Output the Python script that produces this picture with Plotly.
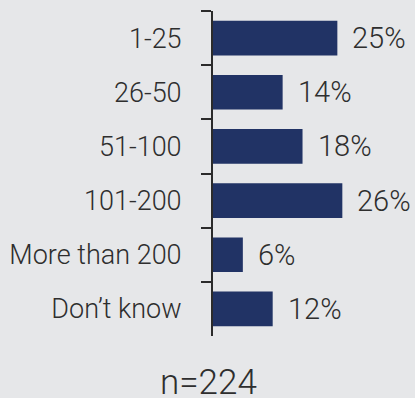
import plotly.graph_objects as go

categories = ["1-25", "26-50", "51-100", "101-200", "More than 200", "Don\u2019t know"]
values = [25, 14, 18, 26, 6, 12]
sample_note = "n=224"

bg = "#e6e7e9"
bar_color = "#213365"
text_color = "#2e2e2e"
font_family = "Roboto, Liberation Sans, sans-serif"

fig = go.Figure(
    go.Bar(
        x=values,
        y=categories,
        orientation="h",
        marker=dict(color=bar_color, line=dict(width=0)),
        width=0.64,
        hoverinfo="skip",
    )
)

# value labels placed just past the end of each bar
for cat, val in zip(categories, values):
    fig.add_annotation(
        x=val, y=cat, text=f"{val}%", showarrow=False,
        xanchor="left", xshift=13,
        font=dict(family=font_family, size=29, weight=300, color=text_color),
    )

fig.add_annotation(
    x=0, xref="x", xanchor="center", xshift=-5,
    y=-0.074, yref="paper", yanchor="top",
    text=sample_note, showarrow=False,
    font=dict(family=font_family, size=35, weight=300, color=text_color),
)

fig.update_layout(
    width=415, height=398,
    margin=dict(l=213, r=10, t=11, b=62),
    paper_bgcolor=bg, plot_bgcolor=bg,
    showlegend=False,
    bargap=0.36,
    xaxis=dict(range=[0, 38.6], visible=False, fixedrange=True, automargin=False),
    yaxis=dict(
        type="category",
        categoryorder="array", categoryarray=categories,
        autorange="reversed",
        automargin=False,
        showline=True, linecolor="#2b2b2b", linewidth=2,
        ticks="outside", tickson="boundaries", ticklen=10,
        tickwidth=2, tickcolor="#2b2b2b",
        ticklabelstandoff=24,
        showgrid=False, zeroline=False,
        tickfont=dict(family=font_family, size=27, weight=300, color=text_color),
    ),
)

fig.write_html("out.html")
